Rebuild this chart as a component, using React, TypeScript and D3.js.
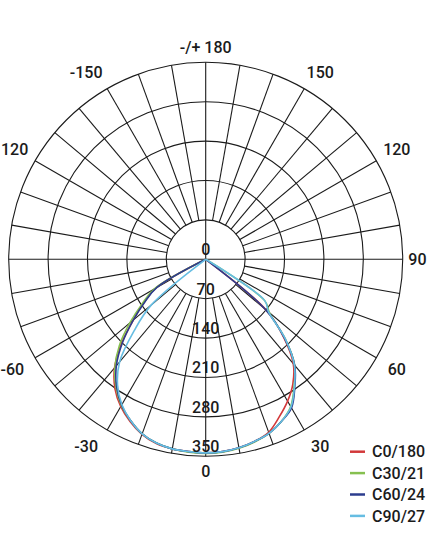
import React from "react";
import * as d3 from "d3";

const GAMMA = [-90, -85, -80, -75, -70, -65, -60, -55, -50, -45, -40, -35, -30, -25, -20, -15, -10, -5, 0, 5, 10, 15, 20, 25, 30, 35, 40, 45, 50, 55, 60, 65, 70, 75, 80, 85, 90];

const C0_180 = [0, 0, 0, 0, 0, 0, 102, 134, 168, 212, 252, 281, 302, 318, 331, 339, 342, 343, 344, 343, 340, 335, 327, 309, 291, 270, 242, 196, 140, 0, 0, 0, 0, 0, 0, 0, 0];
const C30_210 = [0, 0, 0, 0, 0, 0, 106, 138, 176, 217, 251, 278, 300, 316, 330, 338, 342, 344, 345, 344, 341, 336, 329, 318, 302, 274, 246, 200, 148, 128, 0, 0, 0, 0, 0, 0, 0];
const C60_240 = [0, 0, 0, 0, 0, 0, 100, 132, 168, 209, 247, 276, 299, 316, 330, 338, 342, 343, 344, 343, 340, 335, 329, 318, 305, 276, 246, 198, 138, 0, 0, 0, 0, 0, 0, 0, 0];
const C90_270 = [0, 0, 0, 0, 0, 0, 0, 0, 126, 180, 238, 273, 298, 316, 330, 338, 342, 343, 344, 343, 340, 335, 329, 318, 303, 275, 245, 200, 146, 128, 0, 0, 0, 0, 0, 0, 0];

const SERIES_NAMES = ["C0/180", "C30/21", "C60/24", "C90/27"];
const SERIES_VALUES = [C0_180, C30_210, C60_240, C90_270];
const SERIES_COLORS = ["#d2383a", "#86c050", "#2c3d8e", "#66bde2"];

const RING_VALUES = [0, 70, 140, 210, 280, 350];
const ANGLE_TICKS = [180, 150, 120, 90, 60, 30, 0, -30, -60, -120, -150];
const ANGLE_LABELS = ["-/+ 180", "150", "120", "90", "60", "30", "0", "-30", "-60", "120", "-150"];

const W = 427;
const H = 546;
const CX = 205.7;
const CY = 259.3;
const R = 197;
const FONT = "Roboto, 'Noto Sans', sans-serif";
const INK = "#1b1b1b";

export default function App() {
  const r = d3.scaleLinear().domain([0, 350]).range([0, R]);
  const toRad = (g: number) => Math.PI - (g * Math.PI) / 180;
  const pos = (g: number, rad: number) => {
    const a = toRad(g);
    return [rad * Math.sin(a), -rad * Math.cos(a)];
  };
  const spokes = d3.range(0, 360, 10);
  const rings = RING_VALUES.filter((v) => v > 0);

  const line = d3
    .lineRadial<number>()
    .angle((_, i) => toRad(GAMMA[i]))
    .radius((d) => r(d))
    .curve(d3.curveCatmullRom.alpha(0.5));

  return (
    <svg width={W} height={H} style={{ position: "absolute", left: 0, top: 0, background: "#fff" }} fontFamily={FONT}>
      <rect x={0} y={0} width={W} height={H} fill="#fff" />
      <g transform={`translate(${CX},${CY})`}>
        {rings.map((v) => (
          <circle key={v} r={r(v)} fill="none" stroke={INK} strokeWidth={1.1} />
        ))}
        {spokes.map((g) => {
          const full = g % 90 === 0;
          const [x1, y1] = pos(g, full ? 0 : r(70));
          const [x2, y2] = pos(g, R);
          return <line key={g} x1={x1} y1={y1} x2={x2} y2={y2} stroke={INK} strokeWidth={1.1} />;
        })}
        {SERIES_VALUES.map((vals, i) => (
          <path key={SERIES_NAMES[i]} d={line(vals) || ""} fill="none" stroke={SERIES_COLORS[i]} strokeWidth={1.6} strokeLinejoin="round" />
        ))}
        {RING_VALUES.map((v) => (
          <text key={v} x={0} y={r(v) - 4} textAnchor="middle" fontSize={16} fontWeight={500} fill={INK}>
            {v}
          </text>
        ))}
        {ANGLE_TICKS.map((g, i) => {
          const rad = (g * Math.PI) / 180;
          const lr = 212 + 6 * Math.abs(Math.sin(2 * rad)) + 4 * Math.abs(Math.sin(rad));
          const ag = Math.abs(g) === 30 || Math.abs(g) === 150 ? g + Math.sign(g) * (Math.abs(g) < 90 ? 1.5 : -1.5) : g;
          const [x, y] = pos(ag, lr);
          const label = ANGLE_LABELS[i];
          const shift = label.startsWith("-") && g !== 180 ? -5 : 0;
          let tx = x + shift;
          let anchor: "middle" | "start" | "end" = "middle";
          const halfW = label.length * 4.6;
          if (CX + tx + halfW > W - 0.5) {
            tx = W - 0.5 - CX;
            anchor = "end";
          } else if (CX + tx - halfW < 0.5) {
            tx = 0.5 - CX;
            anchor = "start";
          }
          return (
            <text key={g} x={tx} y={y} dy="0.35em" textAnchor={anchor} fontSize={16} fontWeight={500} fill={INK}>
              {label}
            </text>
          );
        })}
      </g>
      <g transform="translate(350,451.7)">
        {SERIES_NAMES.map((name, i) => (
          <g key={name} transform={`translate(0,${i * 21.4})`}>
            <line x1={0} x2={15} y1={0} y2={0} stroke={SERIES_COLORS[i]} strokeWidth={2.5} />
            <text x={22} y={0} dy="0.35em" fontSize={16} fontWeight={500} fill={INK}>
              {name}
            </text>
          </g>
        ))}
      </g>
    </svg>
  );
}
